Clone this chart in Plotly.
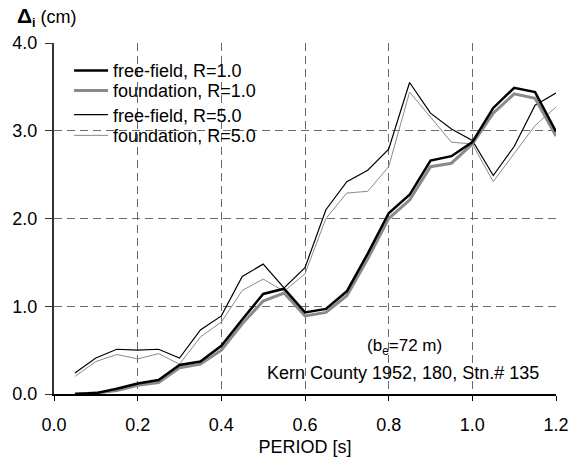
import plotly.graph_objects as go

# Period axis (s)
period = [0.05, 0.10, 0.15, 0.20, 0.25, 0.30, 0.35, 0.40, 0.45, 0.50, 0.55, 0.60,
          0.65, 0.70, 0.75, 0.80, 0.85, 0.90, 0.95, 1.00, 1.05, 1.10, 1.15, 1.20]

# Peak inelastic displacement (cm)
free_field_r1 = [0.00, 0.01, 0.06, 0.12, 0.16, 0.33, 0.37, 0.55, 0.85, 1.14, 1.20, 0.93,
                 0.97, 1.17, 1.60, 2.06, 2.27, 2.66, 2.71, 2.87, 3.26, 3.49, 3.44, 2.99]
foundation_r1 = [0.00, 0.01, 0.04, 0.10, 0.13, 0.30, 0.34, 0.50, 0.80, 1.06, 1.15, 0.89,
                 0.93, 1.12, 1.54, 2.00, 2.21, 2.59, 2.63, 2.85, 3.20, 3.42, 3.37, 2.94]
free_field_r5 = [0.24, 0.41, 0.51, 0.50, 0.51, 0.41, 0.73, 0.89, 1.34, 1.48, 1.21, 1.44,
                 2.10, 2.42, 2.55, 2.79, 3.55, 3.20, 3.02, 2.89, 2.49, 2.82, 3.29, 3.43]
foundation_r5 = [0.20, 0.37, 0.45, 0.40, 0.46, 0.34, 0.65, 0.82, 1.18, 1.31, 1.17, 1.37,
                 2.00, 2.29, 2.31, 2.59, 3.44, 3.16, 2.87, 2.85, 2.42, 2.74, 3.06, 3.27]

x_ticks = [0.0, 0.2, 0.4, 0.6, 0.8, 1.0, 1.2]
y_ticks = [0.0, 1.0, 2.0, 3.0, 4.0]

FONT = "Liberation Sans, Arial, sans-serif"
GRID = "#6a6a6a"

fig = go.Figure()

# drawn thin-first so the thick R=1.0 curves sit on top;
# each curve gets its own one-row legend so the rows can be spaced freely
series = [
    ("foundation, R=5.0", foundation_r5, "#8a8a8a", 1.0, "legend4", 0.736),
    ("free-field, R=5.0", free_field_r5, "#000000", 1.2, "legend3", 0.795),
    ("foundation, R=1.0", foundation_r1, "#8a8a8a", 3.0, "legend2", 0.864),
    ("free-field, R=1.0", free_field_r1, "#000000", 2.5, "legend", 0.921),
]
legend_layout = {}
for name, vals, color, width, leg, ypos in series:
    fig.add_trace(go.Scatter(
        x=period, y=vals, mode="lines", name=name,
        line=dict(color=color, width=width), legend=leg,
    ))
    legend_layout[leg] = dict(
        x=0.03, y=ypos, xanchor="left", yanchor="middle",
        bgcolor="rgba(0,0,0,0)", borderwidth=0,
        font=dict(size=18, family=FONT), itemwidth=34,
    )

fig.update_layout(
    width=576, height=457,
    margin=dict(l=54, r=20, t=43, b=63),
    paper_bgcolor="white", plot_bgcolor="white",
    font=dict(family=FONT, size=17, color="#000000"),
    showlegend=True,
    **legend_layout,
)

fig.update_xaxes(
    range=[0, 1.2], tickvals=x_ticks, ticktext=[f"{v:.1f}" for v in x_ticks],
    showgrid=True, gridcolor=GRID, gridwidth=1.3, griddash="8px,5px",
    showline=True, linecolor="#000000", linewidth=1.5,
    ticks="outside", ticklen=5, tickcolor="#000000", tickwidth=1,
    ticklabelstandoff=9, automargin=False,
    tickfont=dict(size=18), zeroline=False,
    title=dict(text="PERIOD [s]", font=dict(size=18), standoff=8),
)
fig.update_yaxes(
    range=[0, 4.0], tickvals=y_ticks, ticktext=[f"{v:.1f}" for v in y_ticks],
    showgrid=True, gridcolor=GRID, gridwidth=1.3, griddash="8px,5px",
    showline=True, linecolor="#333333", linewidth=2,
    ticks="outside", ticklen=7, tickcolor="#333333", tickwidth=1,
    ticklabelstandoff=4, automargin=False,
    tickfont=dict(size=18), zeroline=False,
)

# axis label for displacement
fig.add_annotation(
    xref="paper", yref="paper", x=-0.078, y=1.03, xanchor="left", yanchor="bottom",
    text="<b><span style='font-size:21px'>Δ</span></b><sub><b>i</b></sub> (cm)",
    showarrow=False, font=dict(size=18, family=FONT),
)

# record information
fig.add_annotation(
    xref="x", yref="y", x=0.838, y=0.54, xanchor="center", yanchor="middle",
    text="(b<sub>e</sub>=72 m)", showarrow=False, font=dict(size=17, family=FONT),
)
fig.add_annotation(
    xref="x", yref="y", x=0.835, y=0.245, xanchor="center", yanchor="middle",
    text="Kern County 1952, 180, Stn.# 135", showarrow=False,
    font=dict(size=18, family=FONT),
)

fig.write_html("out.html")
